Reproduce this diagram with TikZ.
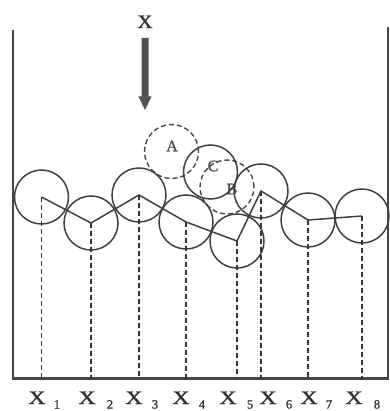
\documentclass[tikz,border=0pt]{standalone}
\usepackage{fontspec}
\setmainfont{Liberation Serif}
\newfontfamily\labelfont[FakeBold=1.2]{Liberation Serif}
\begin{document}
\begin{tikzpicture}[x=1pt,y=-1pt,
  line/.style={draw=black!75,line width=1.5pt},
  ball/.style={circle,line,minimum size=54pt,inner sep=0pt},
  ghost/.style={circle,draw=black!72,line width=1.4pt,dash pattern=on 5pt off 3pt,minimum size=54pt,inner sep=0pt},
  drop/.style={draw=black!78,line width=1.1pt,dash pattern=on 5pt off 3pt},
  wall/.style={draw=black!72,line width=2.3pt},
  big/.style={font=\labelfont\fontsize{19}{19}\selectfont,inner sep=0pt,text=black!80},
  sub/.style={font=\labelfont\fontsize{12.5}{12.5}\selectfont,inner sep=0pt,text=black!80},
  tag/.style={font=\labelfont\fontsize{16}{16}\selectfont,inner sep=0pt,text=black!70}]
\useasboundingbox (0,0) rectangle (389,411);

% container
\coordinate (tl) at (13,30);
\coordinate (bl) at (13,378.5);
\coordinate (br) at (389,378.5);
\coordinate (tr) at (388,27);
\draw[wall] (tl) -- (bl) -- (br);
\draw[wall] (tr) -- (388,378.5);

% direction of the incoming particle
\node[big,anchor=base] (xtop) at (145,28) {\scalebox{1.1}[1]{X}};
\fill[black!68] (141.6,38) -- (148.6,38) -- (148.6,96.5) -- (151.5,96.5)
  -- (145,110) -- (138.5,96.5) -- (141.6,96.5) -- cycle;

% trial positions
\node[ghost] (A) at (171.5,151.5) {};
\node[tag] at (172,146) {A};
\node[ghost] (B) at (227,187) {};
\node[tag] at (232,189) {B};

% deposited particles
\node[ball] (c1) at (41.5,197) {};
\node[ball] (c2) at (91,223) {};
\node[ball] (c3) at (139,195) {};
\node[ball] (c4) at (186,222) {};
\node[ball] (c5) at (237,241) {};
\node[ball] (c6) at (261,191) {};
\node[ball] (c7) at (308,220) {};
\node[ball] (c8) at (362,216) {};
\node[ball] (C) at (210.5,172) {};
\node[tag] at (213,166) {C};

% surface profile through the centres
\draw[line] (c1.center) -- (c2.center) -- (c3.center) -- (c4.center)
  -- (c5.center) -- (c6.center) -- (c7.center) -- (c8.center);

% projections onto the base and their labels
\foreach \i/\lx/\sx in {1/37/57,2/87/110,3/134/155,4/181/202,5/228/250,6/268/289,7/309/329,8/354/377}{
  \coordinate (f\i) at (c\i |- bl);
  \draw[drop] (c\i.center) -- (f\i);
  \node[big,anchor=base] (x\i) at (\lx,404) {\scalebox{1.25}[1]{X}};
  \node[sub,anchor=base] (s\i) at (\sx,408.5) {\i};
}
\end{tikzpicture}
\end{document}
